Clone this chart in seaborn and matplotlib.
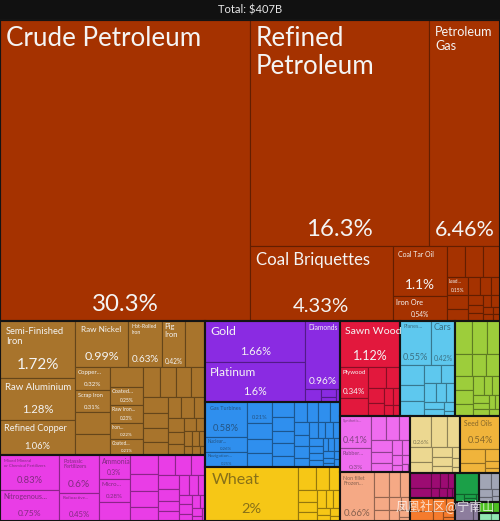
import matplotlib
matplotlib.use("Agg")
import matplotlib.pyplot as plt
import matplotlib.colors as mcolors
from matplotlib.patches import Rectangle
import pandas as pd
import seaborn as sns

# Export treemap, shares in % of total ($407B)
TITLE = "Total: $407B"

mineral_names = ["Crude Petroleum", "Refined Petroleum", "Petroleum Gas", "Coal Briquettes",
                 "Coal Tar Oil", "Iron Ore", None, None, None, "Lead..."]
mineral_shares = [30.3, 16.3, 6.46, 4.33, 1.1, 0.54, 0.23, 0.22, 0.21, 0.15, 0.12, 0.1, 0.09,
                  0.08, 0.07, 0.06, 0.05, 0.05, 0.04, 0.04, 0.03, 0.03, 0.02, 0.02]

metal_names = ["Semi-Finished Iron", "Raw Aluminium", "Refined Copper", "Raw Nickel",
               "Hot-Rolled Iron", "Pig Iron", None, "Copper...", "Scrap Iron", None, None, None,
               "Coated...", "Raw Iron...", "Iron...", "Coated..."]
metal_shares = [1.72, 1.28, 1.06, 0.99, 0.63, 0.42, 0.38, 0.32, 0.31, 0.3, 0.29, 0.26, 0.25,
                0.23, 0.22, 0.21, 0.2, 0.19, 0.18, 0.17, 0.16, 0.15, 0.14, 0.13, 0.12, 0.11,
                0.1, 0.09, 0.08, 0.07, 0.06, 0.05, 0.05, 0.04, 0.04, 0.03, 0.03, 0.02]

chemical_names = ["Mixed Mineral or Chemical Fertilizers", "Nitrogenous...", "Potassic Fertilizers",
                  "Radioactive...", "Ammonia", "Micro..."]
chemical_shares = [0.83, 0.75, 0.6, 0.45, 0.3, 0.28, 0.24, 0.22, 0.2, 0.18, 0.16, 0.14, 0.13,
                   0.12, 0.11, 0.1, 0.09, 0.08, 0.08, 0.07, 0.06, 0.05, 0.05, 0.04, 0.04, 0.03,
                   0.03, 0.02, 0.02]

precious_names = ["Gold", "Platinum", "Diamonds"]
precious_shares = [1.66, 1.6, 0.96, 0.08, 0.05, 0.03, 0.02]

machine_names = ["Gas Turbines", "Nuclear...", "Navigation...", ""]
machine_shares = [0.58, 0.26, 0.25, 0.21, 0.16, 0.15, 0.14, 0.13, 0.12, 0.11, 0.11, 0.1, 0.1,
                  0.09, 0.09, 0.08, 0.08, 0.07, 0.07, 0.06, 0.06, 0.05, 0.05, 0.05, 0.04, 0.04,
                  0.04, 0.04, 0.03, 0.03, 0.03, 0.03, 0.02, 0.02, 0.02, 0.02]

vegetable_names = ["Wheat"]
vegetable_shares = [2.0, 0.17, 0.12, 0.1, 0.09, 0.08, 0.07, 0.06, 0.05, 0.05, 0.04, 0.03, 0.03, 0.02]

wood_names = ["Sawn Wood", "Plywood"]
wood_shares = [1.12, 0.34, 0.2, 0.15, 0.12, 0.1, 0.08, 0.06, 0.05, 0.04, 0.03]

transport_names = ["Planes...", "Cars"]
transport_shares = [0.55, 0.42, 0.2, 0.16, 0.14, 0.12, 0.1, 0.09, 0.08, 0.07, 0.06, 0.05, 0.04, 0.02]

paper_names = []
paper_shares = [0.22, 0.2, 0.17, 0.15, 0.13, 0.12, 0.11, 0.1, 0.09, 0.08, 0.07, 0.06, 0.05,
                0.04, 0.04, 0.03, 0.03, 0.03]

plastic_names = ["Synthetic...", "Rubber..."]
plastic_shares = [0.41, 0.3, 0.15, 0.13, 0.11, 0.1, 0.09, 0.08, 0.06, 0.05, 0.04, 0.03, 0.03, 0.02, 0.01]

animal_names = ["Non fillet Frozen..."]
animal_shares = [0.66, 0.15, 0.12, 0.1, 0.08, 0.07, 0.06, 0.05, 0.04, 0.03, 0.02]

food_names = [""]
food_shares = [0.26, 0.2, 0.16, 0.13, 0.1, 0.08, 0.07, 0.06, 0.04, 0.03, 0.02]

oil_names = ["Seed Oils"]
oil_shares = [0.54, 0.14, 0.1, 0.07, 0.04, 0.03]

textile_shares = [0.12, 0.08, 0.06, 0.05, 0.04, 0.03, 0.03, 0.02, 0.01]
misc_shares = [0.12, 0.09, 0.07, 0.05, 0.04, 0.03, 0.02]
footwear_shares = [0.2, 0.03, 0.02, 0.02, 0.01]
stone_shares = [0.08, 0.06, 0.04, 0.03, 0.02, 0.02]
instrument_shares = [0.14, 0.04]
weapon_shares = [0.06, 0.03]
art_shares = [0.04, 0.03]

SECTORS = [
    ("Mineral Products", "#a53200", mineral_names, mineral_shares),
    ("Metals", "#a8742c", metal_names, metal_shares),
    ("Chemical Products", "#e93de6", chemical_names, chemical_shares),
    ("Precious Metals", "#8a2be2", precious_names, precious_shares),
    ("Machines", "#2f8fee", machine_names, machine_shares),
    ("Vegetable Products", "#f6c716", vegetable_names, vegetable_shares),
    ("Wood Products", "#e2183d", wood_names, wood_shares),
    ("Transportation", "#5ec8ee", transport_names, transport_shares),
    ("Paper Goods", "#9dcd3b", paper_names, paper_shares),
    ("Plastics and Rubbers", "#ef6cef", plastic_names, plastic_shares),
    ("Animal Products", "#f5a985", animal_names, animal_shares),
    ("Foodstuffs", "#ecd891", food_names, food_shares),
    ("Animal and Vegetable Bi-Products", "#f0b43b", oil_names, oil_shares),
    ("Textiles", "#9c0b72", [], textile_shares),
    ("Miscellaneous", "#f57b2d", [], misc_shares),
    ("Footwear and Headwear", "#1ba048", [], footwear_shares),
    ("Stone and Glass", "#a1a5b5", [], stone_shares),
    ("Instruments", "#8d7d9d", [], instrument_shares),
    ("Weapons", "#4dc021", [], weapon_shares),
    ("Arts and Antiques", "#91e8b1", [], art_shares),
]

PHI = (1 + 5 ** 0.5) / 2
W, H, TOP = 500, 521, 20


def squarify(values, x0, y0, x1, y1, ratio=PHI):
    # same row logic as d3.treemapSquarify
    rects = [None] * len(values)
    total = float(sum(values))
    n = len(values)
    i0 = i1 = 0
    while i0 < n:
        dx, dy = x1 - x0, y1 - y0
        s = values[i1]
        i1 += 1
        vmin = vmax = s
        alpha = max(dy / dx, dx / dy) / (total * ratio)
        beta = s * s * alpha
        best = max(vmax / beta, beta / vmin)
        while i1 < n:
            v = values[i1]
            beta = (s + v) ** 2 * alpha
            r = max(max(vmax, v) / beta, beta / min(vmin, v))
            if r > best:
                break
            s += v
            vmin, vmax, best = min(vmin, v), max(vmax, v), r
            i1 += 1
        if dx < dy:
            yb = y0 + dy * s / total
            xx = x0
            for i in range(i0, i1):
                w = dx * values[i] / s
                rects[i] = (xx, y0, xx + w, yb)
                xx += w
            y0 = yb
        else:
            xb = x0 + dx * s / total
            yy = y0
            for i in range(i0, i1):
                h = dy * values[i] / s
                rects[i] = (x0, yy, xb, yy + h)
                yy += h
            x0 = xb
        total -= s
        i0 = i1
    return rects


def name_layout(name, avail_w, h):
    # pick the line breaks giving the largest font; wrapping must win clearly
    words = name.split()
    nb = len(words) - 1
    options = []
    for mask in range(2 ** nb):
        lines, cur = [], [words[0]]
        for k in range(nb):
            if mask >> k & 1:
                lines.append(" ".join(cur))
                cur = [words[k + 1]]
            else:
                cur.append(words[k + 1])
        lines.append(" ".join(cur))
        longest = max(len(l) for l in lines)
        fs = min(26, avail_w / (longest * 0.52), h * 0.3 / (1 + 0.8 * (len(lines) - 1)))
        options.append((fs, lines))
    best_fs, best_lines = options[0]
    for fs, lines in options[1:]:
        if fs > best_fs * 1.25 or (fs >= best_fs - 0.01 and len(lines) < len(best_lines)):
            best_fs, best_lines = fs, lines
    return best_fs, best_lines


def luminance(c):
    r, g, b = mcolors.to_rgb(c)
    lin = [x / 12.92 if x <= 0.04045 else ((x + 0.055) / 1.055) ** 2.4 for x in (r, g, b)]
    return 0.2126 * lin[0] + 0.7152 * lin[1] + 0.0722 * lin[2]


sns.set_theme(style="dark", rc={"figure.facecolor": "#111111", "axes.facecolor": "#111111"})
plt.rcParams["font.family"] = ["Lato", "DejaVu Sans"]

sectors = pd.DataFrame(SECTORS, columns=["sector", "color", "names", "shares"])
sectors["total"] = sectors["shares"].apply(sum)
sectors = sectors.sort_values("total", ascending=False).reset_index(drop=True)

fig = plt.figure(figsize=(5.0, 5.21), dpi=100)
ax = fig.add_axes([0, 0, 1, 1])
ax.set_xlim(0, W)
ax.set_ylim(H, 0)
ax.axis("off")

px2pt = 72 / 100
sector_rects = squarify(list(sectors["total"]), 0, TOP, W, H)

for (_, row), (sx0, sy0, sx1, sy1) in zip(sectors.iterrows(), sector_rects):
    color = row["color"]
    edge = tuple(c * 0.6 for c in mcolors.to_rgb(color))
    light = luminance(color) > 0.24
    tcolor, talpha = ("#1a1a1a", 0.5) if light else ("#f4f4f4", 1.0)
    cells = squarify(list(row["shares"]), sx0, sy0, sx1, sy1)
    for i, (x0, y0, x1, y1) in enumerate(cells):
        ax.add_patch(Rectangle((x0, y0), x1 - x0, y1 - y0, facecolor=color,
                               edgecolor=edge, linewidth=0.8))
        if i >= len(row["names"]) or row["names"][i] is None:
            continue
        w, h = x1 - x0, y1 - y0
        pad = min(6, w * 0.1, h * 0.12)
        name = row["names"][i]
        used = 0
        if name:
            fs, lines = name_layout(name, w - 2 * pad, h)
            if fs >= 3.5:
                ax.text(x0 + pad, y0 + pad, "\n".join(lines), fontsize=fs * px2pt, color=tcolor,
                        alpha=talpha, ha="left", va="top", linespacing=1.15)
                used = pad + len(lines) * fs * 1.2
        pct = f"{row['shares'][i]:g}%"
        pfs = min(24, (w - 2 * pad) / (len(pct) * 0.55), h * 0.27, (h - used - pad) / 1.2)
        if pfs >= 3.5:
            ax.text((x0 + x1) / 2, y1 - pad, pct, fontsize=pfs * px2pt, color=tcolor,
                    alpha=talpha, ha="center", va="bottom")
    ax.add_patch(Rectangle((sx0, sy0), sx1 - sx0, sy1 - sy0, facecolor="none",
                           edgecolor="#141414", linewidth=1.5))

ax.text(W / 2, TOP / 2, TITLE, color="#e8e8e8", fontsize=8, ha="center", va="center")
ax.text(445, 506, "凤凰社区@宁南山", color="white", alpha=0.75, fontsize=9,
        ha="center", va="center", family=["Noto Sans CJK SC", "DejaVu Sans"])

fig.savefig("out.png", dpi=100, facecolor=fig.get_facecolor())
